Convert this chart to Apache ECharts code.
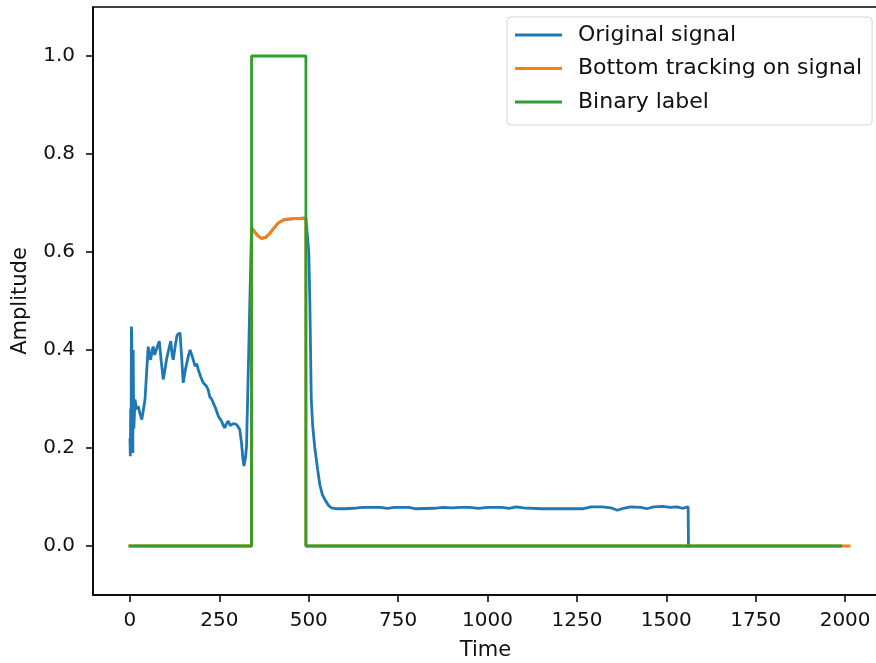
<!DOCTYPE html>
<html>
<head>
<meta charset="utf-8">
<script src="https://cdn.jsdelivr.net/npm/echarts@6/dist/echarts.min.js"></script>
<style>
html,body{margin:0;padding:0;background:#fff;}
#chart{width:876px;height:663px;}
</style>
</head>
<body>
<div id="chart"></div>
<script>
// original signal (time, amplitude)
var signalX = [0, 1, 2, 3, 4, 5, 6, 7, 8, 9, 10, 11, 14, 18, 23, 28, 33, 38, 42, 47, 51, 55, 58, 62, 65, 69, 73, 78, 82, 87, 93, 98, 102, 108, 114, 118, 121, 127, 132, 136, 140, 145, 149, 155, 163, 168,
	175, 182, 187, 191, 198, 205, 210, 214, 219, 223, 228, 233, 240, 247, 252, 256, 261, 265, 270, 275, 280, 284, 290, 298, 303, 307, 312, 316, 319, 323, 326, 332, 340,
	344, 356, 368, 380, 391, 402, 414, 428, 442, 463, 484, 492,
	495, 500, 503, 505, 507, 511, 517, 525, 531, 538, 545, 555, 563,
	580, 600, 625, 650, 700, 720, 740, 780, 800, 850, 875, 900, 925, 950, 975, 1000, 1040, 1060, 1080,
	1100, 1150, 1200, 1265, 1290, 1321, 1345, 1363, 1380, 1400, 1430, 1445, 1465, 1490, 1510, 1530, 1545, 1561, 1562];
var signalY = [0.217, 0.183, 0.28, 0.19, 0.448, 0.43, 0.20, 0.26, 0.19, 0.40, 0.30, 0.24, 0.299, 0.28, 0.285, 0.27, 0.258, 0.28, 0.299, 0.36, 0.407, 0.385, 0.38, 0.40, 0.407, 0.39, 0.387, 0.41, 0.418, 0.38, 0.34, 0.36, 0.38, 0.40, 0.418, 0.39, 0.38, 0.41, 0.431, 0.428, 0.435, 0.38, 0.333, 0.36, 0.387, 0.40,
	0.385, 0.367, 0.372, 0.36, 0.345, 0.333, 0.336, 0.326, 0.318, 0.305, 0.30, 0.292, 0.28, 0.265, 0.262, 0.255, 0.246, 0.241, 0.25, 0.255, 0.246, 0.244, 0.25, 0.248, 0.246, 0.238, 0.21, 0.177, 0.163, 0.18, 0.204, 0.394, 0.65,
	0.652, 0.634, 0.628, 0.630, 0.638, 0.648, 0.659, 0.665, 0.667, 0.668, 0.669, 0.668,
	0.665, 0.6, 0.5, 0.4, 0.3, 0.245, 0.2, 0.155, 0.125, 0.105, 0.095, 0.083, 0.078,
	0.076, 0.076, 0.077, 0.079, 0.079, 0.077, 0.079, 0.079, 0.076, 0.077, 0.079, 0.078, 0.079, 0.079, 0.077, 0.079, 0.079, 0.077, 0.080,
	0.078, 0.076, 0.076, 0.076, 0.080, 0.080, 0.078, 0.073, 0.077, 0.080, 0.079, 0.076, 0.080, 0.081, 0.079, 0.080, 0.077, 0.080, 0];

// bottom tracking
var trackX = [0, 340, 340, 344, 356, 368, 380, 391, 402, 414, 428, 442, 463, 484, 492, 492, 2011];
var trackY = [0, 0, 0.65, 0.652, 0.634, 0.628, 0.630, 0.638, 0.648, 0.659, 0.665, 0.667, 0.668, 0.669, 0.668, 0, 0];

// binary label
var labelX = [0, 340, 340, 492, 492, 1988];
var labelY = [0, 0, 1, 1, 0, 0];

var xTicks = [0, 250, 500, 750, 1000, 1250, 1500, 1750, 2000];
var yTicks = [0, 0.2, 0.4, 0.6, 0.8, 1.0];
var seriesNames = ['Original signal', 'Bottom tracking on signal', 'Binary label'];
var colors = ['#1f77b4', '#ff7f0e', '#2ca02c'];

function pairs(xs, ys){
	var out = [];
	for(var i=0;i<xs.length;i++){
		out.push([xs[i], ys[i]]);
	}
	return out;
}

var font = 'DejaVu Sans';
var txt = '#111';
var lineData = [pairs(signalX, signalY), pairs(trackX, trackY), pairs(labelX, labelY)];
var series = [];
for(var i=0;i<seriesNames.length;i++){
	series.push({
		name: seriesNames[i],
		type: 'line',
		data: lineData[i],
		showSymbol: false,
		symbol: 'none',
		color: colors[i],
		lineStyle: {width: 2.8, color: colors[i], cap: 'square'},
		z: 2 + i
	});
}

var option = {
	animation: false,
	backgroundColor: '#fff',
	grid: {
		left: 93, top: 7, right: -2, bottom: 68,
		outerBoundsMode: 'none',
		containLabel: false,
		show: true, borderColor: '#000', borderWidth: 1.5
	},
	legend: {
		data: seriesNames,
		orient: 'vertical',
		left: 507, top: 17,
		icon: 'rect',
		itemWidth: 47, itemHeight: 3,
		itemGap: 7.5,
		padding: [5, 10, 10, 8],
		backgroundColor: '#fff',
		borderColor: '#d6d6d6', borderWidth: 1, borderRadius: 4,
		textStyle: {fontFamily: font, fontSize: 22, color: txt, lineHeight: 26, padding: [0, 0, 0, 11]}
	},
	xAxis: {
		type: 'value',
		min: -103.4, max: 2092,
		name: 'Time',
		nameLocation: 'middle',
		nameGap: 45.5,
		nameTextStyle: {fontFamily: font, fontSize: 21, color: txt},
		axisLine: {onZero: false, lineStyle: {color: '#000', width: 1.5}},
		axisTick: {show: true, length: 7, customValues: xTicks, lineStyle: {color: '#000', width: 1.5}},
		axisLabel: {
			customValues: xTicks, margin: 16, fontFamily: font, fontSize: 20, color: txt,
			formatter: function(v){ return String(v); }
		},
		splitLine: {show: false}
	},
	yAxis: {
		type: 'value',
		min: -0.1, max: 1.1,
		name: 'Amplitude',
		nameLocation: 'middle',
		nameGap: 61.5,
		nameRotate: 90,
		nameTextStyle: {fontFamily: font, fontSize: 21, color: txt},
		axisLine: {show: true, onZero: false, lineStyle: {color: '#000', width: 1.5}},
		axisTick: {show: true, length: 7, customValues: yTicks, lineStyle: {color: '#000', width: 1.5}},
		axisLabel: {
			customValues: yTicks, margin: 18, fontFamily: font, fontSize: 20, color: txt,
			formatter: function(v){ return v.toFixed(1); }
		},
		splitLine: {show: false}
	},
	series: series
};

var myChart = echarts.init(document.getElementById('chart'));
myChart.setOption(option);
</script>
</body>
</html>
